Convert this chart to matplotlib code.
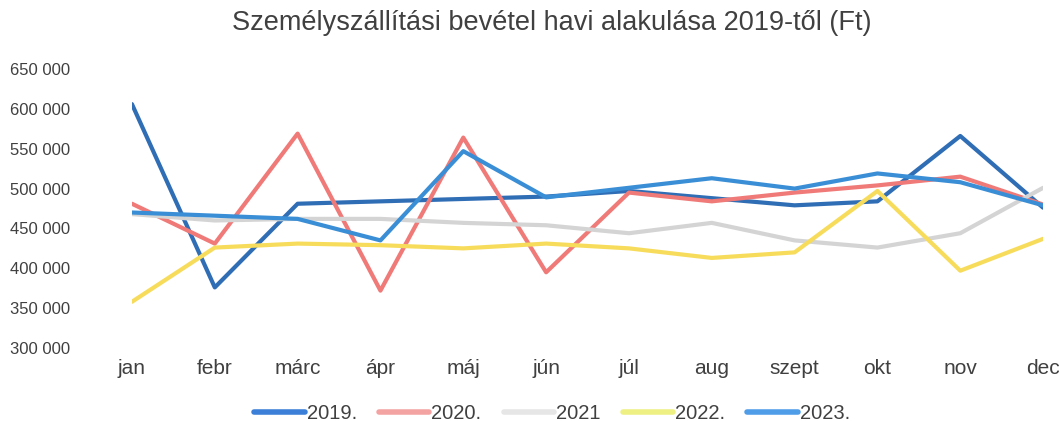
import matplotlib.pyplot as plt
from matplotlib.ticker import FuncFormatter

months = ['jan', 'febr', 'márc', 'ápr', 'máj', 'jún', 'júl', 'aug', 'szept', 'okt', 'nov', 'dec']

y2019 = [606000, 376000, 481000, 484000, 487000, 490000, 497000, 488000, 479000, 484000, 566000, 476000]
y2020 = [481000, 431000, 569000, 372000, 564000, 395000, 495000, 484000, 495000, 504000, 515000, 480000]
y2021 = [468000, 460000, 462000, 462000, 457000, 454000, 444000, 457000, 435000, 426000, 444000, 501000]
y2022 = [358000, 426000, 431000, 429000, 425000, 431000, 425000, 413000, 420000, 497000, 397000, 437000]
y2023 = [470000, 466000, 462000, 435000, 547000, 489000, 501000, 513000, 500000, 519000, 508000, 479000]

# line colour, legend swatch colour (the scan shows them a bit lighter)
series = [
    ('2019.', y2019, '#2f6db5', '#3b7fd8'),
    ('2020.', y2020, '#ef7a78', '#f4a3a3'),
    ('2021', y2021, '#d4d4d4', '#e6e6e6'),
    ('2022.', y2022, '#f7dc5c', '#eef084'),
    ('2023.', y2023, '#3a8ed6', '#4f9de8'),
]

plt.rcParams['font.family'] = ['Liberation Sans', 'DejaVu Sans']

fig = plt.figure(figsize=(10.59, 4.21), dpi=100)
ax = fig.add_axes([0.1246, 0.1734, 0.8604, 0.6626])

x = list(range(len(months)))
for label, vals, col, _ in series:
    ax.plot(x, vals, color=col, linewidth=3, label=label, solid_capstyle='round')

ax.set_xlim(0, 11)
ax.set_ylim(300000, 650000)
ax.set_yticks(range(300000, 650001, 50000))
ax.yaxis.set_major_formatter(FuncFormatter(lambda v, p: f'{int(v):,}'.replace(',', ' ')))
ax.set_xticks(x)
ax.set_xticklabels(months)

for s in ax.spines.values():
    s.set_visible(False)
ax.tick_params(axis='both', length=0, labelcolor='#404040')
ax.tick_params(axis='x', pad=8, labelsize=15)
ax.tick_params(axis='y', pad=88, labelsize=12)
for t in ax.get_yticklabels():
    t.set_horizontalalignment('left')

fig.text(0.521, 0.945, 'Személyszállítási bevétel havi alakulása 2019-től (Ft)',
         ha='center', va='center', fontsize=19.5, color='#404040')

leg = ax.legend(loc='center', bbox_to_anchor=(0.461, -0.235), ncol=5, frameon=False,
                fontsize=14.5, handlelength=2.5, handletextpad=0.1, columnspacing=1.1)
for t in leg.get_texts():
    t.set_color('#404040')
for h, (_, _, _, lc) in zip(leg.get_lines(), series):
    h.set_color(lc)
    h.set_linewidth(4)

fig.savefig('out.png', dpi=100)
